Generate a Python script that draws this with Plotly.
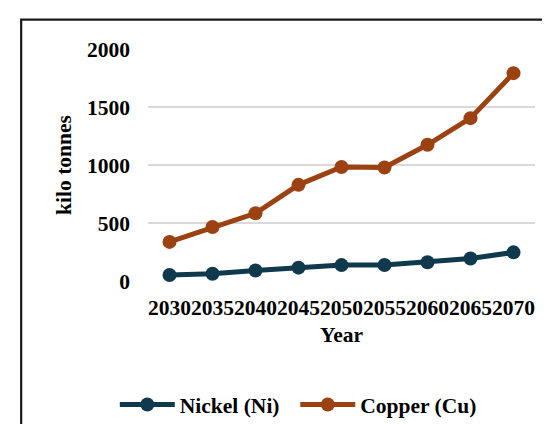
import plotly.graph_objects as go

years = ["2030", "2035", "2040", "2045", "2050", "2055", "2060", "2065", "2070"]
nickel = [52, 63, 90, 115, 137, 138, 161, 194, 247]
copper = [337, 466, 584, 829, 983, 978, 1174, 1404, 1792]
y_ticks = [0, 500, 1000, 1500, 2000]

FONT = "Liberation Serif"
FS = 21.5
NI_COLOR = "#0f3a4e"
CU_COLOR = "#9b4112"

fig = go.Figure()
fig.add_trace(go.Scatter(
    x=years, y=nickel, name="<b>Nickel (Ni)</b>&nbsp;&nbsp;", mode="lines+markers",
    line=dict(color=NI_COLOR, width=5), marker=dict(size=14, color=NI_COLOR),
    cliponaxis=False,
))
fig.add_trace(go.Scatter(
    x=years, y=copper, name="<b>Copper (Cu)</b>", mode="lines+markers",
    line=dict(color=CU_COLOR, width=5), marker=dict(size=14, color=CU_COLOR),
    cliponaxis=False,
))

L, R, T, B = 139.5, 23, 41, 150.7
W, H = 550, 424
pw = W - L - R
ph = H - T - B

def px_to_paper_x(px):
    return (px - L) / pw

def px_to_paper_y(py):
    return (H - B - py) / ph

fig.update_layout(
    width=W, height=H,
    margin=dict(l=L, r=R, t=T, b=B, autoexpand=False),
    paper_bgcolor="white", plot_bgcolor="white",
    font=dict(family=FONT, size=FS, color="black"),
    showlegend=True,
    legend=dict(
        orientation="h", x=px_to_paper_x(290), xanchor="center",
        y=px_to_paper_y(397), yanchor="middle",
        font=dict(family=FONT, size=FS, color="black"),
        itemwidth=55, traceorder="normal",
        bgcolor="rgba(0,0,0,0)",
    ),
    shapes=[dict(
        type="rect", xref="paper", yref="paper",
        x0=px_to_paper_x(12.5), x1=px_to_paper_x(600),
        y0=px_to_paper_y(11.5), y1=px_to_paper_y(500),
        line=dict(color="#1a1a1a", width=2.2), layer="below",
    )],
)

fig.update_xaxes(
    type="category", categoryorder="array", categoryarray=years,
    range=[-0.5, len(years) - 0.5],
    tickmode="array", tickvals=years, ticktext=[f"<b>{y}</b>" for y in years],
    tickangle=0, showgrid=False, showline=False, zeroline=False,
    ticks="", ticklabelstandoff=11,
    tickfont=dict(family=FONT, size=FS, color="black"),
    title=dict(text="<b>Year</b>", font=dict(family=FONT, size=FS, color="black"), standoff=8),
    fixedrange=True,
)
fig.update_yaxes(
    range=[0, 2000], tickmode="array", tickvals=y_ticks,
    ticktext=[f"<b>{v}</b>" for v in y_ticks],
    showgrid=True, gridcolor="#d9d9d9", gridwidth=1.6,
    zeroline=False, showline=False, ticks="", ticklabelstandoff=17,
    tickfont=dict(family=FONT, size=FS, color="black"),
    title=dict(text="<b>kilo tonnes</b>", font=dict(family=FONT, size=FS, color="black"), standoff=9),
    fixedrange=True,
)

fig.write_html("out.html")
